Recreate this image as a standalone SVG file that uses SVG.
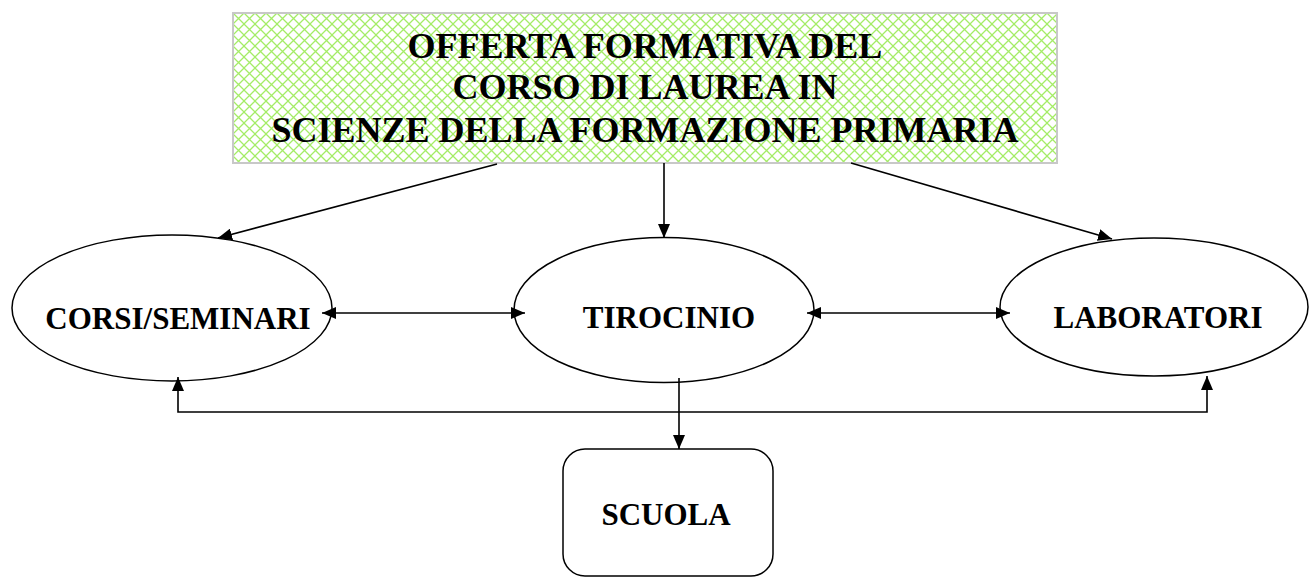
<svg xmlns="http://www.w3.org/2000/svg" width="1310" height="578" viewBox="0 0 1310 578">
<style>
.t{font-family:"Liberation Serif","Times New Roman","DejaVu Serif",serif;font-weight:bold;fill:#000;text-anchor:middle}
.title{font-size:36px}
.lbl{font-size:31px}
.shape{fill:#fff;stroke:#000;stroke-width:1.5}
.conn{fill:none;stroke:#000;stroke-width:1.6}
</style>
<defs>
<pattern id="hatch" width="11" height="11" patternUnits="userSpaceOnUse" x="233" y="13">
<path d="M-1,-1 L12,12 M12,-1 L-1,12" stroke="#a4ec66" stroke-width="1.3" fill="none"/>
</pattern>
<marker id="ah" viewBox="0 0 14 12" refX="14" refY="6" markerWidth="14" markerHeight="12" markerUnits="userSpaceOnUse" orient="auto-start-reverse">
<path d="M0,0 L14,6 L0,12 z" fill="#000"/>
</marker>
</defs>
<rect width="1310" height="578" fill="#fff"/>
<g id="node-offerta">
<rect x="233" y="13" width="824" height="150" fill="#fff" stroke="none"/>
<rect x="233" y="13" width="824" height="150" fill="url(#hatch)" stroke="#c8c8c8" stroke-width="2"/>
<text class="t title" x="645" y="58">OFFERTA FORMATIVA DEL</text>
<text class="t title" x="645" y="99">CORSO DI LAUREA IN</text>
<text class="t title" x="645" y="142">SCIENZE DELLA FORMAZIONE PRIMARIA</text>
</g>
<g id="node-corsi">
<ellipse class="shape" cx="172" cy="308" rx="160" ry="73"/>
<text class="t lbl" x="178" y="329">CORSI/SEMINARI</text>
</g>
<g id="node-tirocinio">
<ellipse class="shape" cx="664" cy="310" rx="150" ry="72.5"/>
<text class="t lbl" x="669" y="328">TIROCINIO</text>
</g>
<g id="node-laboratori">
<ellipse class="shape" cx="1154" cy="307" rx="154" ry="69"/>
<text class="t lbl" x="1158" y="328">LABORATORI</text>
</g>
<g id="node-scuola">
<rect class="shape" x="563" y="449" width="210" height="127" rx="22" ry="22"/>
<text class="t lbl" x="666" y="525">SCUOLA</text>
</g>
<g id="connectors">
<line class="conn" x1="497" y1="164" x2="218" y2="238" marker-end="url(#ah)"/>
<line class="conn" x1="664" y1="163" x2="664" y2="238" marker-end="url(#ah)"/>
<line class="conn" x1="851" y1="163" x2="1112" y2="239" marker-end="url(#ah)"/>
<line class="conn" x1="322" y1="313" x2="525" y2="313" marker-start="url(#ah)" marker-end="url(#ah)"/>
<line class="conn" x1="807" y1="313" x2="1010" y2="313" marker-start="url(#ah)" marker-end="url(#ah)"/>
<polyline class="conn" points="178,377 178,412 1207,412 1207,376" marker-start="url(#ah)" marker-end="url(#ah)"/>
<line class="conn" x1="679" y1="378" x2="679" y2="449" marker-end="url(#ah)"/>
</g>
</svg>
